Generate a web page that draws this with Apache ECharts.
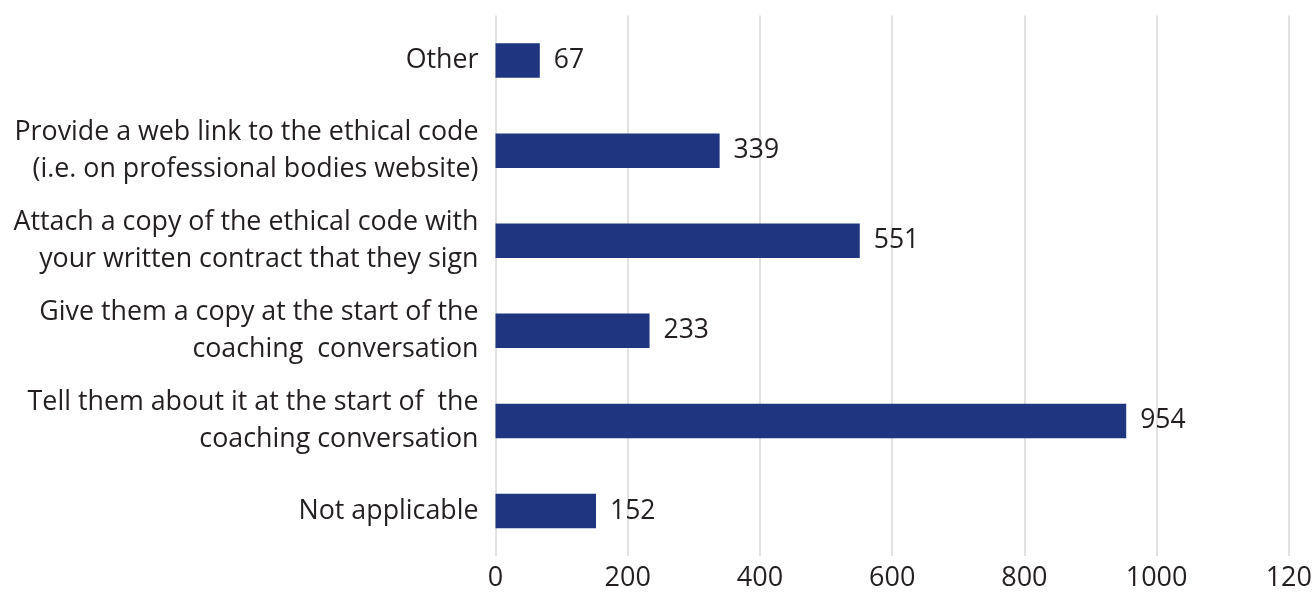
<!DOCTYPE html>
<html>
<head>
<meta charset="utf-8">
<script src="https://cdn.jsdelivr.net/npm/echarts@6/dist/echarts.min.js"></script>
<style>
  html, body { margin: 0; padding: 0; background: #ffffff; }
  #chart { width: 1315px; height: 592px; }
</style>
</head>
<body>
<div id="chart"></div>
<script>
// Ways coaches share their ethical code with clients (bottom to top)
const categories = [
  "Not applicable",
  "Tell them about it at the start of  the\ncoaching conversation",
  "Give them a copy at the start of the\ncoaching  conversation",
  "Attach a copy of the ethical code with\nyour written contract that they sign",
  "Provide a web link to the ethical code\n(i.e. on professional bodies website)",
  "Other"
];
const responses = [152, 954, 233, 551, 339, 67];
const tickLabels = ["0", "200", "400", "600", "800", "1000", "120"];

const textColor = "#231f20";
const fontFamily = "'Open Sans', sans-serif";

const chart = echarts.init(document.getElementById("chart"), null, { renderer: "canvas" });
chart.setOption({
  backgroundColor: "#ffffff",
  animation: false,
  grid: { left: 495.5, right: 24.3, top: 15.5, bottom: 34.2, containLabel: false },
  xAxis: {
    type: "value",
    min: 0,
    max: 1200,
    interval: 200,
    axisLine: { show: false },
    axisTick: { show: false },
    splitLine: { show: true, lineStyle: { color: "#d9d9d9", width: 1.5 } },
    axisLabel: {
      color: textColor,
      fontFamily: fontFamily,
      fontSize: 27,
      margin: 9,
      formatter: (v) => tickLabels[Math.round(v / 200)]
    }
  },
  yAxis: {
    type: "category",
    data: categories,
    axisLine: { show: false },
    axisTick: { show: false },
    axisLabel: {
      color: textColor,
      fontFamily: fontFamily,
      fontSize: 26.8,
      lineHeight: 36.5,
      margin: 17,
      align: "right",
      padding: [4, 0, 0, 0]
    }
  },
  series: [{
    type: "bar",
    data: responses,
    barWidth: 34.5,
    itemStyle: { color: "#1f3580" },
    label: {
      show: true,
      position: "right",
      distance: 14,
      color: textColor,
      fontFamily: fontFamily,
      fontSize: 26.5,
      padding: [4, 0, 0, 0]
    }
  }]
});
</script>
</body>
</html>
